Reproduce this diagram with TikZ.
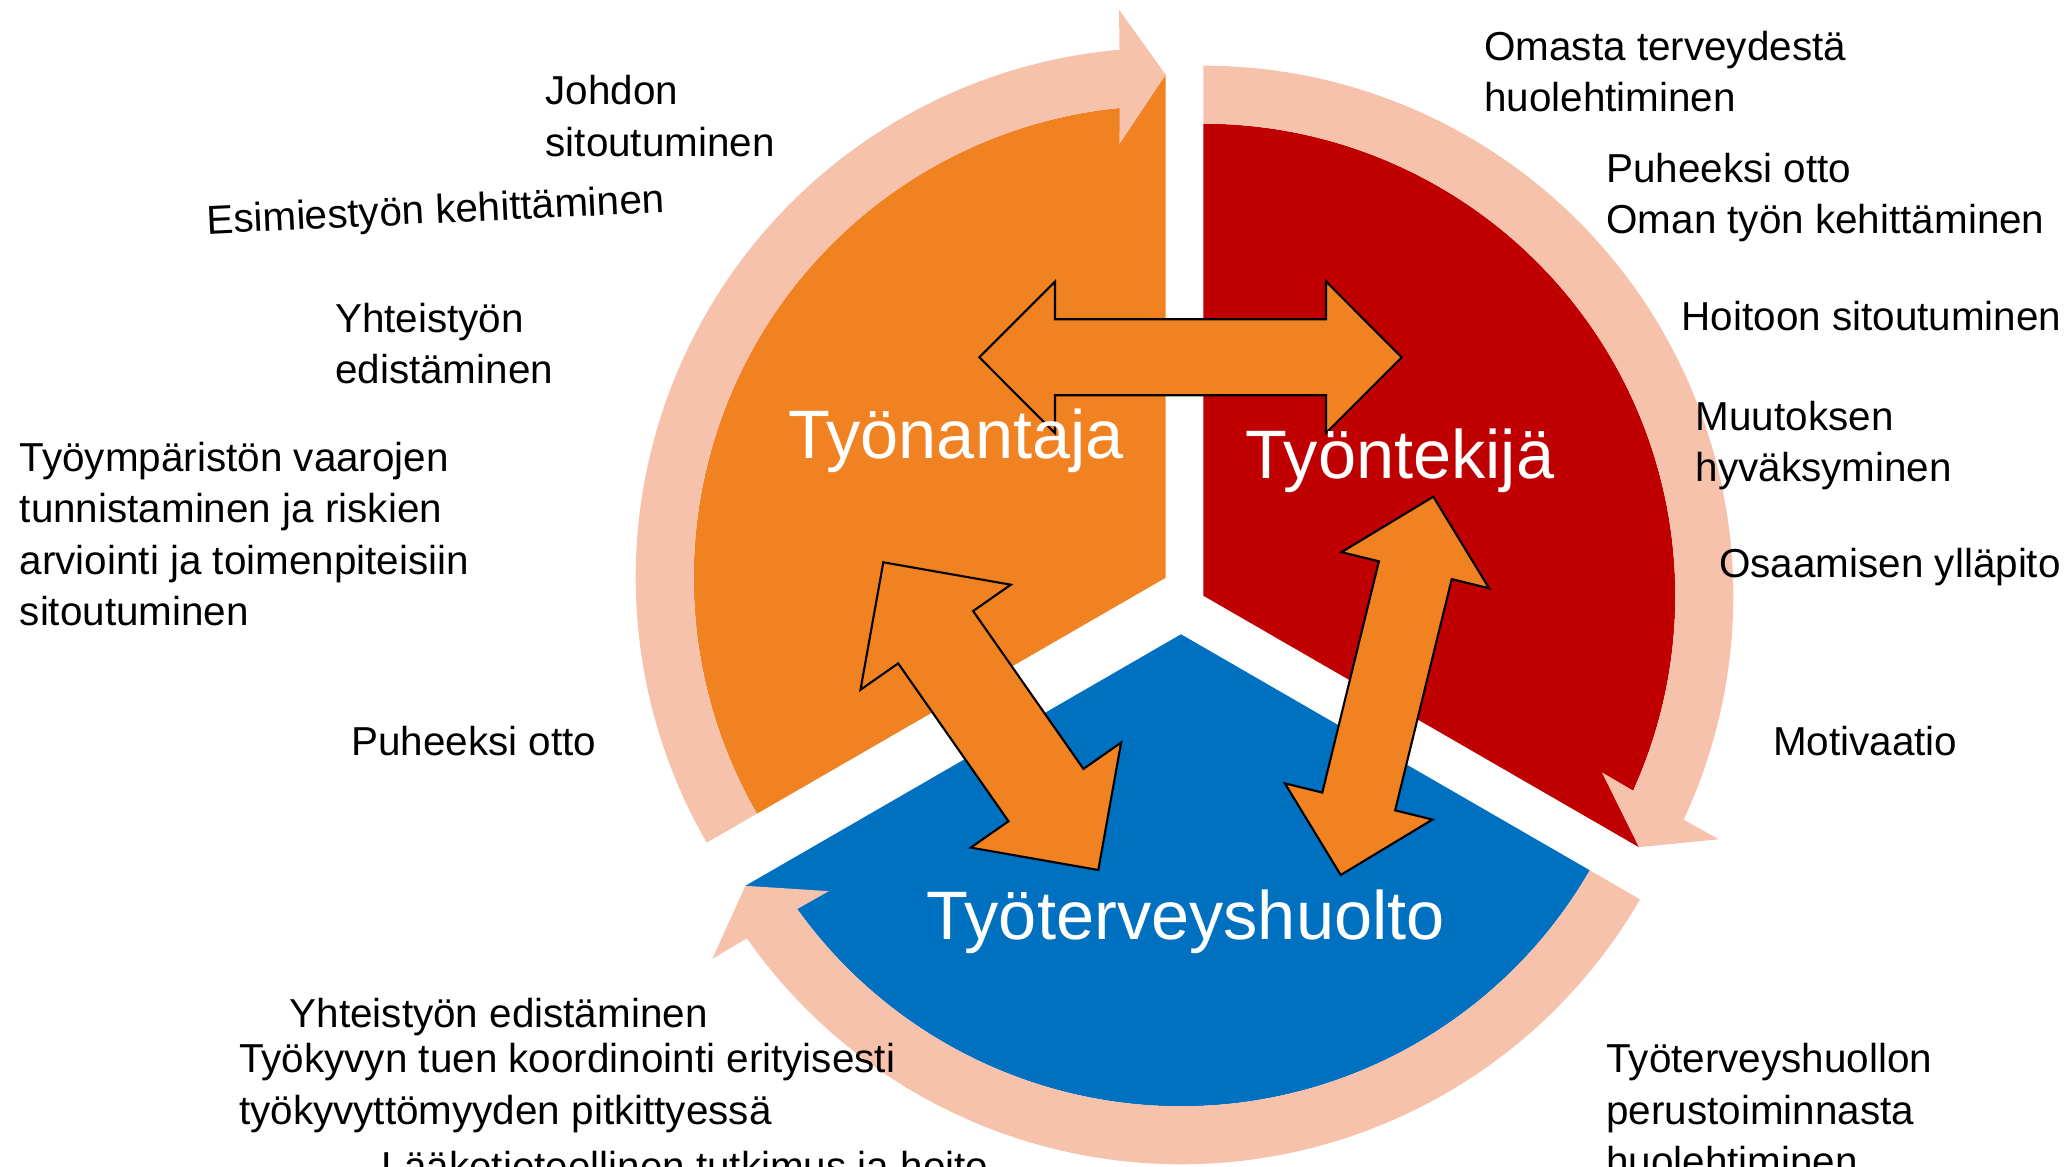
\documentclass[tikz,border=0pt]{standalone}
\usepackage{fontspec}
\setmainfont{Liberation Sans}
\usetikzlibrary{calc}

\definecolor{employer}{HTML}{F18222}
\definecolor{employee}{HTML}{C00000}
\definecolor{ohs}{HTML}{0070C0}
\definecolor{ringcol}{HTML}{F7C2AC}

\tikzset{
  role/.style={text=white, inner sep=0pt, anchor=base, font=\fontsize{19.5}{23}\selectfont},
  item/.style={anchor=base west, inner sep=0pt, align=left, font=\fontsize{11.5}{14.6}\selectfont},
  ring/.style={fill=ringcol},
  link/.style={fill=employer, draw=black, line width=0.6pt, line join=miter},
}

% segment: apex, colour, tail angle, head angle
\newcommand{\segment}[4]{%
  \fill[#2] (#1) -- ([shift={(#3:4.72)}]#1) arc[start angle=#3, end angle=#4+6, radius=4.72]
    -- ([shift={(#4:5.03)}]#1) -- cycle;
  \fill[ring] ([shift={(#3:5.30)}]#1) arc[start angle=#3, end angle=#4+5, radius=5.30]
    -- ([shift={(#4+4.7:5.70)}]#1) -- ([shift={(#4:5.03)}]#1) -- ([shift={(#4+6.1:4.36)}]#1)
    -- ([shift={(#4+5.6:4.72)}]#1) arc[start angle=#4+5.6, end angle=#3, radius=4.72] -- cycle;
}
% double arrow: tip, tip, shaft half width, head half width, head length
\newcommand{\dblarrow}[5]{%
  \filldraw[link] (#1) -- ($(#1)!#5!(#2)!#4!90:(#2)$) -- ($(#1)!#5!(#2)!#3!90:(#2)$)
    -- ($(#2)!#5!(#1)!#3!-90:(#1)$) -- ($(#2)!#5!(#1)!#4!-90:(#1)$) -- (#2)
    -- ($(#2)!#5!(#1)!#4!90:(#1)$) -- ($(#2)!#5!(#1)!#3!90:(#1)$)
    -- ($(#1)!#5!(#2)!#3!-90:(#2)$) -- ($(#1)!#5!(#2)!#4!-90:(#2)$) -- cycle;
}

\begin{document}
\begin{tikzpicture}
  \useasboundingbox (0,0) rectangle (20.67,11.66);
  \clip (0,0) rectangle (20.67,11.66);

  \coordinate (O) at (11.657,5.883);
  \coordinate (R) at (12.033,5.703);
  \coordinate (B) at (11.810,5.317);

  \segment{O}{employer}{210}{90}
  \segment{R}{employee}{90}{-30}
  \segment{B}{ohs}{330}{210}

  \coordinate (h1) at (9.793,8.087);
  \coordinate (h2) at (14.017,8.087);
  \coordinate (l1) at (8.833,6.037);
  \coordinate (l2) at (10.983,2.960);
  \coordinate (r1) at (14.333,6.693);
  \coordinate (r2) at (13.407,2.910);

  \dblarrow{h1}{h2}{0.38cm}{0.758cm}{0.757cm}
  \dblarrow{l1}{l2}{0.457cm}{0.917cm}{0.914cm}
  \dblarrow{r1}{r2}{0.375cm}{0.76cm}{0.757cm}

  \node[role] (employer) at (9.56,7.07) {Työnantaja};
  \node[role] (employee) at (14.00,6.877) {Työntekijä};
  \node[role] (ohs) at (11.856,2.27) {Työterveyshuolto};

  % employer side (multi-line texts sit on their last line)
  \node[item] (johdon) at (5.449,10.098) {Johdon\\sitoutuminen};
  \node[item, rotate=2.7] (esimies) at (2.066,9.318) {Esimiestyön kehittäminen};
  \node[item] (yhteisA) at (3.344,7.822) {Yhteistyön\\edistäminen};
  \node[item] (vaarat) at (0.191,5.406) {Työympäristön vaarojen\\tunnistaminen ja riskien\\arviointi ja toimenpiteisiin\\sitoutuminen};
  \node[item] (puheA) at (3.508,4.109) {Puheeksi otto};

  % employee side
  \node[item] (omasta) at (14.836,10.543) {Omasta terveydestä\\huolehtiminen};
  \node[item] (puheB) at (16.057,9.326) {Puheeksi otto\\Oman työn kehittäminen};
  \node[item] (hoitoon) at (16.81,8.35) {Hoitoon sitoutuminen};
  \node[item] (muutos) at (16.951,6.846) {Muutoksen\\hyväksyminen};
  \node[item] (osaaminen) at (17.186,5.882) {Osaamisen ylläpito};
  \node[item] (motivaatio) at (17.724,4.109) {Motivaatio};

  % occupational health side
  \node[item] (yhteisB) at (2.89,1.387) {Yhteistyön edistäminen};
  \node[item] (tyokyky) at (2.385,0.417) {Työkyvyn tuen koordinointi erityisesti\\työkyvyttömyyden pitkittyessä};
  \node[item] (laake) at (3.81,-0.14) {Lääketieteellinen tutkimus ja hoito};
  \node[item] (perus) at (16.056,-0.095) {Työterveyshuollon\\perustoiminnasta\\huolehtiminen};
\end{tikzpicture}
\end{document}
